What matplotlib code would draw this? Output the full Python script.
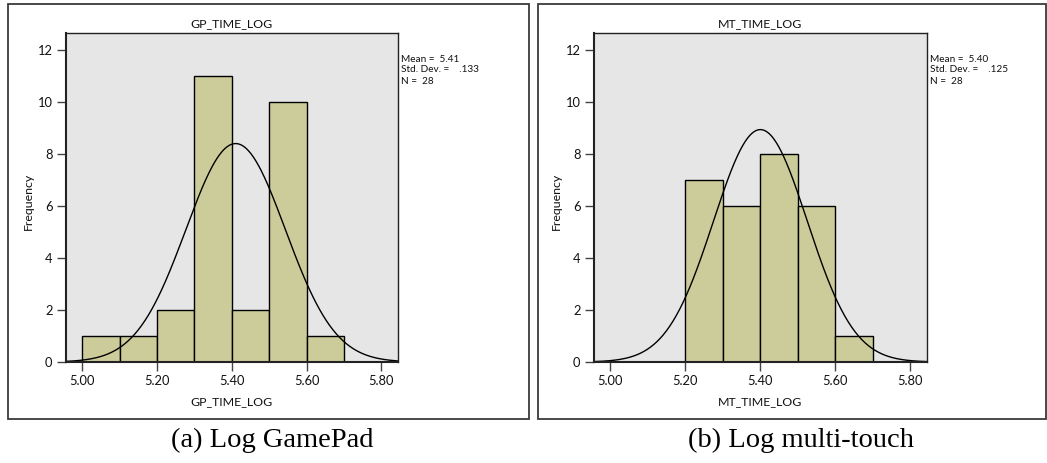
import numpy as np
import matplotlib
matplotlib.use("Agg")
import matplotlib.pyplot as plt
from matplotlib.patches import Rectangle

# --- data -----------------------------------------------------------------
gp_edges = [5.0, 5.1, 5.2, 5.3, 5.4, 5.5, 5.6, 5.7]
gp_counts = [1, 1, 2, 11, 2, 10, 1]
gp_mean, gp_sd, gp_n = 5.41, 0.133, 28

mt_edges = [5.2, 5.3, 5.4, 5.5, 5.6, 5.7]
mt_counts = [7, 6, 8, 6, 1]
mt_mean, mt_sd, mt_n = 5.40, 0.125, 28

x_ticks = [5.00, 5.20, 5.40, 5.60, 5.80]
x_tick_labels = ["5.00", "5.20", "5.40", "5.60", "5.80"]
y_ticks = [0, 2, 4, 6, 8, 10, 12]

panels = [
    dict(var="GP_TIME_LOG", edges=gp_edges, counts=gp_counts,
         mean=gp_mean, sd=gp_sd, n=gp_n, sd_txt=".133", mean_txt="5.41",
         caption="(a) Log GamePad", cap_x=272.5),
    dict(var="MT_TIME_LOG", edges=mt_edges, counts=mt_counts,
         mean=mt_mean, sd=mt_sd, n=mt_n, sd_txt=".125", mean_txt="5.40",
         caption="(b) Log multi-touch", cap_x=801),
]

# --- layout (pixel based) ----------------------------------------------------
W, H = 1047, 463
fig = plt.figure(figsize=(W / 100, H / 100), dpi=100)
fig.patch.set_facecolor("white")

def fx(px):
    return px / W

def fy(py):
    return 1 - py / H

sans = ["Lato", "DejaVu Sans"]
serif = ["Liberation Serif", "DejaVu Serif"]
bar_color = "#cccc9a"
bg_color = "#e6e6e6"

frame_px = [(8, 528.5), (537.5, 1045.5)]
axes_px = [(65.7, 397.7), (593.7, 926.7)]
plot_top, plot_bot = 33, 362
xlim = (4.9555, 5.8435)
ylim = (0, 12.65)

for p, (fl, fr), (al, ar) in zip(panels, frame_px, axes_px):
    # outer panel frame
    fig.add_artist(Rectangle((fx(fl), fy(419)), fx(fr - fl), (419 - 4) / H,
                             transform=fig.transFigure, fill=False,
                             edgecolor="#3a3a3a", linewidth=1.3))

    ax = fig.add_axes([fx(al), fy(plot_bot), fx(ar - al),
                       (plot_bot - plot_top) / H])
    ax.set_facecolor(bg_color)

    edges = np.array(p["edges"])
    counts = np.array(p["counts"])
    widths = np.diff(edges)
    ax.bar(edges[:-1], counts, width=widths, align="edge",
           color=bar_color, edgecolor="black", linewidth=1.0, zorder=2)

    # fitted normal curve scaled to frequency
    bw = widths[0]
    xs = np.linspace(xlim[0], xlim[1], 400)
    ys = p["n"] * bw * np.exp(-0.5 * ((xs - p["mean"]) / p["sd"]) ** 2) / (
        p["sd"] * np.sqrt(2 * np.pi))
    ax.plot(xs, ys, color="black", linewidth=1.0, zorder=3)

    ax.set_xlim(*xlim)
    ax.set_ylim(*ylim)
    ax.set_xticks(x_ticks)
    ax.set_xticklabels(x_tick_labels)
    ax.set_yticks(y_ticks)
    ax.tick_params(direction="out", length=6.5, width=1.0, color="#444444",
                   labelsize=9.3, labelcolor="#111111", pad=3)
    for lab in ax.get_xticklabels() + ax.get_yticklabels():
        lab.set_family(sans)
    for side, sp in ax.spines.items():
        sp.set_color("#222222")
        sp.set_linewidth(1.5 if side in ("left", "bottom") else 1.0)
        sp.set_zorder(4)

    cx = (al + ar) / 2
    fig.text(fx(cx), fy(24), p["var"], ha="center", va="center",
             fontsize=8.9, family=sans, color="#111111")
    fig.text(fx(cx), fy(402), p["var"], ha="center", va="center",
             fontsize=8.9, family=sans, color="#111111")
    fig.text(fx(al - 37), fy((plot_top + plot_bot) / 2 + 4), "Frequency",
             rotation=90, ha="center", va="center",
             fontsize=8.9, family=sans, color="#111111")

    stats = [f"Mean =  {p['mean_txt']}",
             f"Std. Dev. =    {p['sd_txt']}",
             f"N =  {p['n']}"]
    for i, s in enumerate(stats):
        fig.text(fx(ar + 3.5), fy(59 + 11 * i), s, ha="left", va="center",
                 fontsize=7.2, family=sans, color="#111111")

    fig.text(fx(p["cap_x"]), fy(440), p["caption"], ha="center",
             va="center", fontsize=20.5, family=serif, color="black")

fig.savefig("out.png", dpi=100)
